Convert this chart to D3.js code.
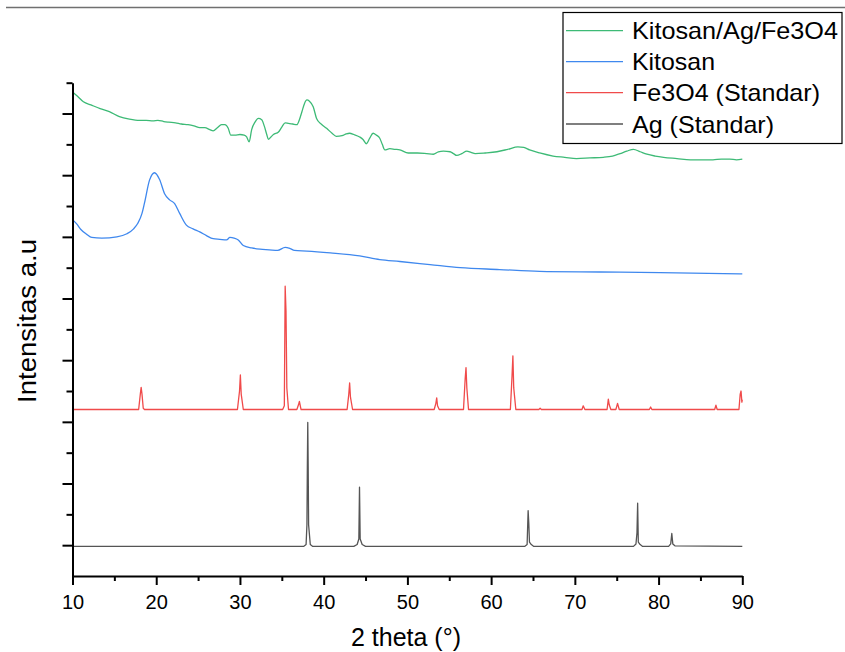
<!DOCTYPE html>
<html><head><meta charset="utf-8">
<script src="https://cdn.jsdelivr.net/npm/d3@7"></script>
<style>body{margin:0;background:#fff}svg{display:block}text{font-family:"Liberation Sans",Arial,sans-serif}</style>
</head><body>
<svg id="c" width="845" height="652"></svg>
<script>
// ---- data (2θ in degrees, intensity in stacked arbitrary units) ----
const seriesNames = ["Kitosan/Ag/Fe3O4", "Kitosan", "Fe3O4 (Standar)", "Ag (Standar)"];
const seriesColors = ["#3dba76", "#3f88ee", "#f04a4a", "#555555"];

const compositeTheta = [10,10.6,11.3,12.2,13.3,14.4,15.6,16.8,18.0,18.8,19.6,20.2,20.9,21.5,22.3,23.0,23.8,24.5,25.2,25.8,26.4,26.8,27.3,27.8,28.2,28.6,28.9,29.4,30.0,30.5,30.8,31.1,31.4,31.8,32.2,32.6,32.9,33.2,33.4,33.7,34.0,34.6,35.0,35.4,35.8,36.3,36.8,37.1,37.4,37.7,38.0,38.3,38.75,39.15,39.7,40.35,41.0,41.5,42.2,42.7,43.1,43.6,44.3,44.7,45.1,45.5,45.9,46.3,46.7,47.0,47.3,47.9,48.5,49.1,50.1,51.2,52.3,53.1,53.7,54.3,55.1,55.5,55.9,56.5,57.1,57.6,58.1,59.3,60.7,62.0,63.2,63.9,64.6,65.8,67.4,68.8,70.2,71.8,73.4,74.5,75.4,76.2,77.0,77.8,78.6,79.6,80.6,82.2,83.8,85.2,86.5,87.5,88.5,89.3,90];
const compositeInt   = [7.85,7.78,7.69,7.64,7.58,7.53,7.45,7.41,7.39,7.39,7.38,7.39,7.37,7.36,7.35,7.33,7.32,7.30,7.27,7.27,7.24,7.22,7.27,7.32,7.32,7.26,7.15,7.15,7.16,7.15,7.12,7.04,7.24,7.36,7.42,7.40,7.30,7.16,7.08,7.12,7.16,7.20,7.28,7.35,7.34,7.33,7.32,7.40,7.53,7.66,7.72,7.70,7.61,7.42,7.33,7.26,7.18,7.13,7.14,7.17,7.18,7.16,7.12,7.08,7.01,7.10,7.18,7.15,7.10,7.00,6.91,6.93,6.92,6.91,6.86,6.86,6.85,6.84,6.88,6.89,6.88,6.85,6.82,6.85,6.89,6.87,6.85,6.86,6.88,6.92,6.96,6.95,6.91,6.86,6.81,6.79,6.77,6.78,6.79,6.81,6.85,6.89,6.92,6.88,6.84,6.81,6.79,6.77,6.75,6.75,6.75,6.76,6.76,6.75,6.76];

const kitosanTheta = [10,10.5,11.0,11.7,12.3,13.5,15.3,16.5,17.3,17.8,18.3,18.6,19.2,19.8,20.4,21.0,21.6,22.2,22.8,23.6,24.4,25.2,26.0,26.8,27.6,28.4,28.8,29.3,29.8,30.4,31.4,32.4,33.5,34.5,35.4,36.0,36.5,38.0,40.8,44.3,46.7,49.1,52.7,56.3,61.0,65.8,73.0,80.2,90];
const kitosanInt   = [5.78,5.71,5.62,5.54,5.49,5.48,5.50,5.55,5.63,5.72,5.88,6.05,6.42,6.54,6.43,6.20,6.10,6.04,5.88,5.69,5.63,5.58,5.52,5.47,5.46,5.45,5.49,5.48,5.45,5.36,5.32,5.30,5.29,5.28,5.33,5.31,5.28,5.27,5.24,5.19,5.13,5.10,5.05,5.00,4.97,4.94,4.93,4.92,4.90];

const fe3o4Theta = [10,17.9,18.1,18.2,18.3,18.45,18.6,29.7,29.95,30.05,30.15,30.4,35.1,35.3,35.4,35.5,35.6,35.8,36.8,37.0,37.1,37.3,42.8,43.0,43.1,43.2,43.45,53.2,53.4,53.5,53.6,53.8,56.7,56.9,57.0,57.1,57.3,62.3,62.5,62.6,62.7,62.95,65.7,65.85,66.0,70.85,71.0,71.2,73.85,74.0,74.1,74.3,74.9,75.1,75.3,78.9,79.05,79.2,86.7,86.85,87.0,89.6,89.75,89.85,89.95,90];
const fe3o4Int   = [2.70,2.70,2.95,3.06,2.95,2.72,2.70,2.70,3.00,3.26,2.95,2.70,2.70,2.76,4.70,4.30,3.05,2.70,2.70,2.78,2.83,2.70,2.70,2.95,3.13,2.90,2.70,2.70,2.80,2.89,2.76,2.70,2.70,3.20,3.38,3.05,2.70,2.70,3.25,3.57,3.05,2.70,2.70,2.72,2.70,2.70,2.76,2.70,2.70,2.87,2.78,2.70,2.70,2.80,2.70,2.70,2.74,2.70,2.70,2.77,2.70,2.70,2.95,3.00,2.82,2.86];

const agTheta = [10,37.6,37.9,38.0,38.05,38.1,38.15,38.2,38.4,38.7,43.6,44.0,44.2,44.28,44.36,44.6,45.0,64.0,64.3,64.42,64.5,64.58,64.8,65.1,77.0,77.3,77.42,77.5,77.58,77.8,78.1,81.2,81.45,81.58,81.7,81.95,90];
const agInt   = [0.48,0.48,0.51,0.83,1.77,2.49,1.77,0.83,0.51,0.48,0.48,0.51,0.60,1.44,0.60,0.51,0.48,0.48,0.51,1.06,0.85,0.55,0.51,0.48,0.48,0.52,0.70,1.18,0.55,0.51,0.48,0.48,0.52,0.69,0.52,0.49,0.48];

const xTicksMajor = [10,20,30,40,50,60,70,80,90];
const xTicksMinor = [15,25,35,45,55,65,75,85];
const yTicksMajor = [0.5,1.5,2.5,3.5,4.5,5.5,6.5,7.5];
const yTicksMinor = [1,2,3,4,5,6,7,8];

const xTitle = "2 theta (°)";
const yTitle = "Intensitas a.u";

// ---- drawing ----
const svg = d3.select("#c");
const x = d3.scaleLinear().domain([10, 90]).range([72.5, 742.3]);
const y = d3.scaleLinear().domain([0, 8]).range([576, 82.7]);

// top separator line
svg.append("line").attr("x1", 6).attr("x2", 845).attr("y1", 7.5).attr("y2", 7.5)
  .attr("stroke", "#707070").attr("stroke-width", 1.5);

const series = [
  {theta: compositeTheta, val: compositeInt, smooth: true},
  {theta: kitosanTheta, val: kitosanInt, smooth: true},
  {theta: fe3o4Theta, val: fe3o4Int, smooth: false},
  {theta: agTheta, val: agInt, smooth: false}
];
const lineSmooth = d3.line().x(d => x(d[0])).y(d => y(d[1])).curve(d3.curveMonotoneX);
const lineSharp = d3.line().x(d => x(d[0])).y(d => y(d[1]));
series.slice().reverse().forEach((s, ri) => {
  const i = series.length - 1 - ri;
  svg.append("path")
    .datum(d3.zip(s.theta, s.val))
    .attr("fill", "none")
    .attr("stroke", seriesColors[i])
    .attr("stroke-width", 1.3)
    .attr("stroke-linejoin", "round")
    .attr("d", s.smooth ? lineSmooth : lineSharp);
});

// axes
function styleAxis(g) {
  g.selectAll("path, line").attr("stroke", "#000").attr("stroke-width", 2);
  g.selectAll("text").attr("fill", "#000").style("font-size", "20px")
    .style("font-family", '"Liberation Sans", Arial, sans-serif');
}
const gx = svg.append("g").attr("transform", "translate(0,576)")
  .call(d3.axisBottom(x).tickValues(xTicksMajor).tickSize(9).tickSizeOuter(0).tickPadding(10).tickFormat(d3.format("d")));
styleAxis(gx);
gx.selectAll("text").attr("dy", "0.71em").attr("y", 19);
const gxm = svg.append("g").attr("transform", "translate(0,576)")
  .call(d3.axisBottom(x).tickValues(xTicksMinor).tickSize(5).tickFormat(""));
styleAxis(gxm); gxm.select(".domain").remove();

const gy = svg.append("g").attr("transform", "translate(72.5,0)")
  .call(d3.axisLeft(y).tickValues(yTicksMajor).tickSize(10).tickSizeOuter(0).tickFormat(""));
styleAxis(gy);
const gym = svg.append("g").attr("transform", "translate(72.5,0)")
  .call(d3.axisLeft(y).tickValues(yTicksMinor).tickSize(6).tickFormat(""));
styleAxis(gym); gym.select(".domain").remove();

// axis titles
svg.append("text").attr("x", 406).attr("y", 646).attr("text-anchor", "middle")
  .style("font-size", "25px").attr("fill", "#000").text(xTitle);
svg.append("text").attr("transform", "translate(36,321) rotate(-90)").attr("text-anchor", "middle")
  .style("font-size", "26px").attr("textLength", 164).attr("lengthAdjust", "spacingAndGlyphs")
  .attr("fill", "#000").text(yTitle);

// legend
const lg = svg.append("g");
lg.append("rect").attr("x", 563).attr("y", 12.5).attr("width", 279).attr("height", 131)
  .attr("fill", "#fff").attr("stroke", "#000").attr("stroke-width", 1.2);
const rowY = [30.7, 61.7, 92.7, 124];
const legendTextWidth = [206, 83, 188, 142];
seriesNames.forEach((n, i) => {
  lg.append("line").attr("x1", 566).attr("x2", 623).attr("y1", rowY[i]).attr("y2", rowY[i])
    .attr("stroke", seriesColors[i]).attr("stroke-width", 1.3);
  lg.append("text").attr("x", 632).attr("y", rowY[i] + 8.5).style("font-size", "24px")
    .attr("textLength", legendTextWidth[i]).attr("lengthAdjust", "spacingAndGlyphs")
    .attr("fill", "#000").text(n);
});
</script>
</body></html>
